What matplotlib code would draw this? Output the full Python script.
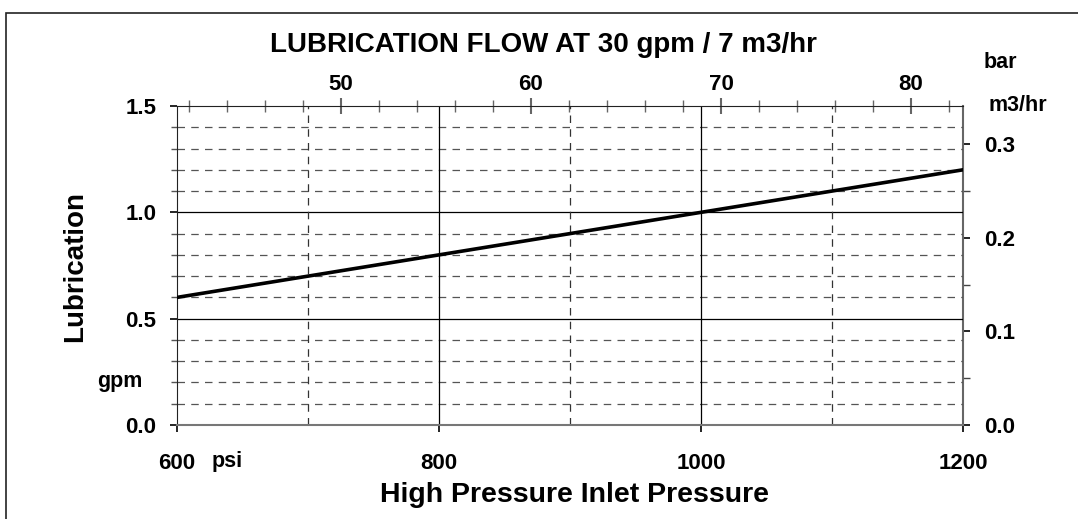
import matplotlib.pyplot as plt
import numpy as np
from matplotlib.patches import Rectangle
from matplotlib.ticker import MultipleLocator

plt.rcParams['font.family'] = ['Liberation Sans', 'DejaVu Sans']
plt.rcParams['font.weight'] = 'bold'

# data
psi = [600, 700, 800, 900, 1000, 1100, 1200]
gpm = [0.6, 0.7, 0.8, 0.9, 1.0, 1.1, 1.2]
x_ticks = [600, 800, 1000, 1200]
y_ticks = [0.0, 0.5, 1.0, 1.5]
bar_ticks = [50, 60, 70, 80]
m3_ticks = [0.0, 0.1, 0.2, 0.3]
PSI_TO_BAR = 0.0689476
GPM_TO_M3 = 0.2271

W, H = 1078, 519
fig = plt.figure(figsize=(W / 100, H / 100), dpi=100)
ax = fig.add_axes([177 / W, 1 - 425 / H, 786 / W, 319 / H])

# frame around the whole chart (only top/left visible)
fig.patches.append(Rectangle((6 / W, -0.1), 1.2, 1 - 13 / H + 0.1,
                             transform=fig.transFigure, fill=False,
                             edgecolor='#222222', lw=1.2))

ax.set_xlim(600, 1200)
ax.set_ylim(0, 1.5)

# grid
for y in np.arange(0.1, 1.5, 0.1):
    if abs(y - 0.5) < 1e-6 or abs(y - 1.0) < 1e-6:
        ax.axhline(y, color='black', lw=0.9)
    else:
        ax.axhline(y, color='#555555', lw=0.9, ls=(0, (6, 5)))
for x in [700, 900, 1100]:
    ax.axvline(x, color='#333333', lw=0.9, ls=(0, (6, 5)))
for x in [800, 1000]:
    ax.axvline(x, color='black', lw=0.9)

ax.plot(psi, gpm, color='black', lw=2.6, zorder=5)

ax.set_xticks(x_ticks)
ax.set_yticks(y_ticks)
ax.set_yticklabels([f'{v:.1f}' for v in y_ticks])
ax.yaxis.set_minor_locator(MultipleLocator(0.1))
ax.tick_params(axis='both', which='major', labelsize=16, length=5, width=1.2, direction='out')
ax.tick_params(axis='y', which='minor', length=4, width=1, direction='out', colors='#555555')
ax.tick_params(axis='x', pad=15)
ax.tick_params(axis='y', pad=10)

for s in ['left', 'top']:
    ax.spines[s].set_color('#222222')
ax.spines['bottom'].set_color('#777777')
ax.spines['bottom'].set_linewidth(1.5)
ax.spines['right'].set_visible(False)

# top bar axis
top = ax.secondary_xaxis('top', functions=(lambda p: p * PSI_TO_BAR, lambda b: b / PSI_TO_BAR))
top.set_xticks(bar_ticks)
top.xaxis.set_minor_locator(MultipleLocator(2))
top.tick_params(which='major', direction='inout', length=12, width=1.5, colors='#666666',
                labelcolor='black', labelsize=16, pad=2)
top.tick_params(which='minor', direction='inout', length=8, width=1, colors='#666666')
top.spines['top'].set_visible(False)

# right m3/hr axis
right = ax.secondary_yaxis('right', functions=(lambda g: g * GPM_TO_M3, lambda m: m / GPM_TO_M3))
right.set_yticks(m3_ticks)
right.set_yticklabels([f'{v:.1f}' for v in m3_ticks])
right.yaxis.set_minor_locator(MultipleLocator(0.05))
right.tick_params(which='major', direction='out', length=5, width=1.2, labelsize=16, pad=10)
right.tick_params(which='minor', direction='out', length=5, width=1, colors='#444444')
right.spines['right'].set_color('#666666')
right.spines['right'].set_linewidth(1.5)

fig.text(575 / W, 1 - 495 / H, 'High Pressure Inlet Pressure', ha='center', va='center',
         fontsize=20.5, fontweight='bold')
fig.text(75 / W, 1 - 266 / H, 'Lubrication', ha='center', va='center', rotation=90,
         fontsize=20, fontweight='bold')
fig.text(543 / W, 1 - 45 / H, 'LUBRICATION FLOW AT 30 gpm / 7 m3/hr', ha='center', va='center',
         fontsize=20, fontweight='bold')
fig.text(120 / W, 1 - 381 / H, 'gpm', ha='center', va='center', fontsize=15.5, fontweight='bold')
fig.text(227 / W, 1 - 461 / H, 'psi', ha='center', va='center', fontsize=15.5, fontweight='bold')
fig.text(1000 / W, 1 - 62 / H, 'bar', ha='center', va='center', fontsize=15.5, fontweight='bold')
fig.text(1018 / W, 1 - 105 / H, 'm3/hr', ha='center', va='center', fontsize=15.5, fontweight='bold')

fig.savefig('out.png', dpi=100)
